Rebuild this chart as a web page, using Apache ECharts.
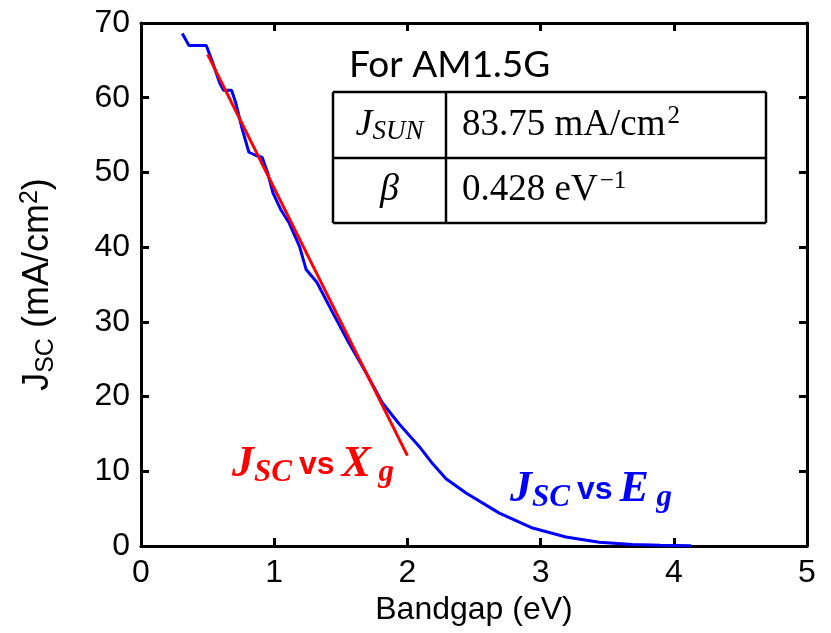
<!DOCTYPE html>
<html>
<head>
<meta charset="utf-8">
<script src="https://cdn.jsdelivr.net/npm/echarts@6/dist/echarts.min.js"></script>
<style>
  html, body { margin: 0; padding: 0; background: #fff; }
  #chart { width: 831px; height: 633px; }
</style>
</head>
<body>
<div id="chart"></div>
<script>
// Jsc vs Eg (blue curve)
const eg = [0.31, 0.36, 0.49, 0.53, 0.59, 0.62, 0.68, 0.71, 0.76, 0.81, 0.86, 0.91, 0.95, 0.99, 1.05, 1.11, 1.19, 1.24, 1.32, 1.44, 1.56, 1.69, 1.81, 1.94, 2.09, 2.19, 2.29, 2.44, 2.69, 2.94, 3.19, 3.44, 3.69, 3.9, 4.13];
const jscEg = [68.6, 67.0, 67.0, 65.1, 62.0, 61.0, 61.0, 59.4, 55.8, 52.7, 52.3, 52.0, 50.0, 47.3, 45.0, 43.3, 40.1, 37.0, 35.3, 31.2, 27.2, 23.2, 19.2, 16.3, 13.3, 11.0, 9.0, 7.1, 4.4, 2.4, 1.2, 0.5, 0.2, 0.1, 0.05];

// Jsc vs Xg (red straight fit), end points
const xg = [0.5, 2.0];
const jscXg = [65.8, 12.1];

const xTicks = [0, 1, 2, 3, 4, 5];
const yTicks = [0, 10, 20, 30, 40, 50, 60, 70];

const tableRows = [
  ['{it|J}{itsub|SUN}', '83.75 mA/cm{sup|2}'],
  ['{it|β}', '0.428 eV{sup|−1}']
];

const mychart = echarts.init(document.getElementById('chart'));

const axisBlack = { onZero: false, lineStyle: { color: '#000', width: 3 } };
const tickIn = { inside: true, length: 8, lineStyle: { color: '#000', width: 3 } };
const sans = 'Liberation Sans';
const labelFont = { color: '#000', fontSize: 32, fontFamily: sans };

// table geometry (pixels)
const tL = 333, tM = 446, tR = 766, tRow = [92, 158, 223];
const serif = 'Liberation Serif';
const cellRich = {
  it: { fontFamily: serif, fontStyle: 'italic', fontSize: 38, fill: '#000' },
  itsub: { fontFamily: serif, fontStyle: 'italic', fontSize: 27, fill: '#000', padding: [14, 0, 0, 0] },
  sup: { fontFamily: serif, fontSize: 25, fill: '#000', padding: [0, 0, 18, 2] }
};

let graphics = [
  { type: 'text', left: 349, top: 47, style: { text: 'For AM1.5G', fontFamily: 'Lato', fontSize: 37, fill: '#000' } }
];
tRow.forEach(y => {
  graphics.push({ type: 'line', shape: { x1: tL, y1: y, x2: tR, y2: y }, style: { stroke: '#000', lineWidth: 2.5 } });
});
[tL, tM, tR].forEach(x => {
  graphics.push({ type: 'line', shape: { x1: x, y1: tRow[0], x2: x, y2: tRow[2] }, style: { stroke: '#000', lineWidth: 2.5 } });
});
tableRows.forEach((row, i) => {
  const cy = (tRow[i] + tRow[i + 1]) / 2;
  graphics.push({
    type: 'text', x: (tL + tM) / 2, y: cy,
    style: { text: row[0], rich: cellRich, fontFamily: serif, fontSize: 38, fill: '#000', align: 'center', verticalAlign: 'middle' }
  });
  graphics.push({
    type: 'text', x: 462, y: cy,
    style: { text: row[1], rich: cellRich, fontFamily: serif, fontSize: 37, fill: '#000', align: 'left', verticalAlign: 'middle' }
  });
});

function annRich(color) {
  return {
    it: { fontFamily: serif, fontStyle: 'italic', fontWeight: 'bold', fontSize: 44, fill: color },
    sub: { fontFamily: serif, fontStyle: 'italic', fontWeight: 'bold', fontSize: 31, fill: color, padding: [16, 0, 0, 0] },
    vs: { fontFamily: sans, fontWeight: 'bold', fontSize: 32, fill: color, padding: [0, 7, 0, 7] }
  };
}
graphics.push({
  type: 'text', left: 232, top: 443,
  style: { text: '{it|J}{sub|SC}{vs|vs}{it|X}{sub| g}', rich: annRich('#ff0000') }
});
graphics.push({
  type: 'text', left: 510, top: 468,
  style: { text: '{it|J}{sub|SC}{vs|vs}{it|E}{sub| g}', rich: annRich('#0000ff') }
});

let option = {
  animation: false,
  backgroundColor: '#fff',
  grid: { left: 141, right: 24, top: 23, bottom: 87, containLabel: false },
  xAxis: [
    {
      type: 'value', min: xTicks[0], max: xTicks[xTicks.length - 1], interval: 1,
      name: 'Bandgap (eV)', nameLocation: 'middle', nameGap: 45,
      nameTextStyle: { color: '#000', fontSize: 32, fontFamily: sans },
      axisLine: axisBlack, axisTick: tickIn,
      axisLabel: Object.assign({ margin: 11 }, labelFont),
      splitLine: { show: false }
    },
    {
      type: 'value', position: 'top', min: xTicks[0], max: xTicks[xTicks.length - 1], interval: 1,
      axisLine: axisBlack, axisTick: tickIn, axisLabel: { show: false }, splitLine: { show: false }
    }
  ],
  yAxis: [
    {
      type: 'value', min: yTicks[0], max: yTicks[yTicks.length - 1], interval: 10,
      name: '{n|J}{s|SC}{n| (mA/cm}{p|2}{n|)}', nameLocation: 'middle', nameGap: 82, nameRotate: 90,
      nameTextStyle: {
        color: '#000', fontSize: 36, fontFamily: sans,
        rich: {
          n: { fontSize: 36, fontFamily: sans, color: '#000' },
          s: { fontSize: 25, fontFamily: sans, color: '#000', padding: [16, 0, 0, 0] },
          p: { fontSize: 25, fontFamily: sans, color: '#000', padding: [0, 0, 16, 0] }
        }
      },
      axisLine: axisBlack, axisTick: tickIn,
      axisLabel: Object.assign({ margin: 11 }, labelFont),
      splitLine: { show: false }
    },
    {
      type: 'value', position: 'right', min: yTicks[0], max: yTicks[yTicks.length - 1], interval: 10,
      axisLine: axisBlack, axisTick: tickIn, axisLabel: { show: false }, splitLine: { show: false }
    }
  ],
  series: [
    {
      name: 'Jsc vs Eg', type: 'line', symbol: 'none',
      data: eg.map((v, i) => [v, jscEg[i]]),
      lineStyle: { color: '#0000ff', width: 3 }
    },
    {
      name: 'Jsc vs Xg', type: 'line', symbol: 'none',
      data: xg.map((v, i) => [v, jscXg[i]]),
      lineStyle: { color: '#ff0000', width: 3 }
    }
  ],
  graphic: graphics
};

mychart.setOption(option, true);
</script>
</body>
</html>
